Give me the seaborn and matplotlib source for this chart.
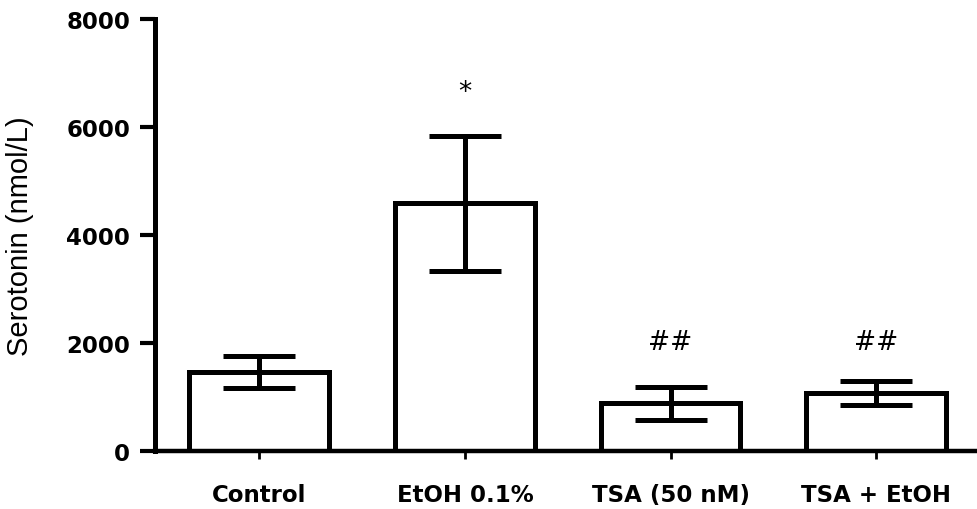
import numpy as np
import seaborn as sns
import matplotlib.pyplot as plt

groups = ["Control", "EtOH 0.1%", "TSA (50 nM)", "TSA + EtOH"]
means = [1460, 4590, 880, 1075]
sem = [290, 1250, 305, 220]
marks = ["", "*", "##", "##"]
mark_y = [0, 6650, 2020, 2020]

sns.set_style("ticks", {"axes.edgecolor": "black", "xtick.color": "black",
                        "ytick.color": "black", "text.color": "black",
                        "axes.labelcolor": "black"})
plt.rcParams['font.family'] = ['DejaVu Sans']

fig = plt.figure(figsize=(9.77, 5.10), dpi=100)
ax = fig.add_axes([0.159, 0.114, 0.841, 0.847])

sns.barplot(x=groups, y=means, color="white", edgecolor="black",
            linewidth=3.6, width=0.68, ax=ax)
ax.errorbar(np.arange(len(groups)), means, yerr=sem, fmt="none",
            ecolor="black", elinewidth=3.6, capsize=26, capthick=3.6)

for i, m in enumerate(marks):
    if m:
        ax.text(i, mark_y[i], m, ha="center", va="center", fontsize=19,
                color="black")

ax.set_xlim(-0.505, 3.49)
ax.set_ylim(0, 8000)
ax.set_yticks([0, 2000, 4000, 6000, 8000])

sns.despine(ax=ax)
ax.spines["left"].set_linewidth(3.6)
ax.spines["bottom"].set_linewidth(3.2)
ax.tick_params(axis="y", length=11, width=3, pad=7, labelsize=16.5)
ax.tick_params(axis="x", length=6, width=2, pad=17, labelsize=16.5)
for lab in ax.get_xticklabels() + ax.get_yticklabels():
    lab.set_fontweight("bold")

ax.set_ylabel("Serotonin (nmol/L)", fontsize=21,
              family=["Liberation Sans", "DejaVu Sans"])
ax.yaxis.set_label_coords(-0.148, 0.5)
ax.set_xlabel("")

fig.savefig("out.png", dpi=100)
